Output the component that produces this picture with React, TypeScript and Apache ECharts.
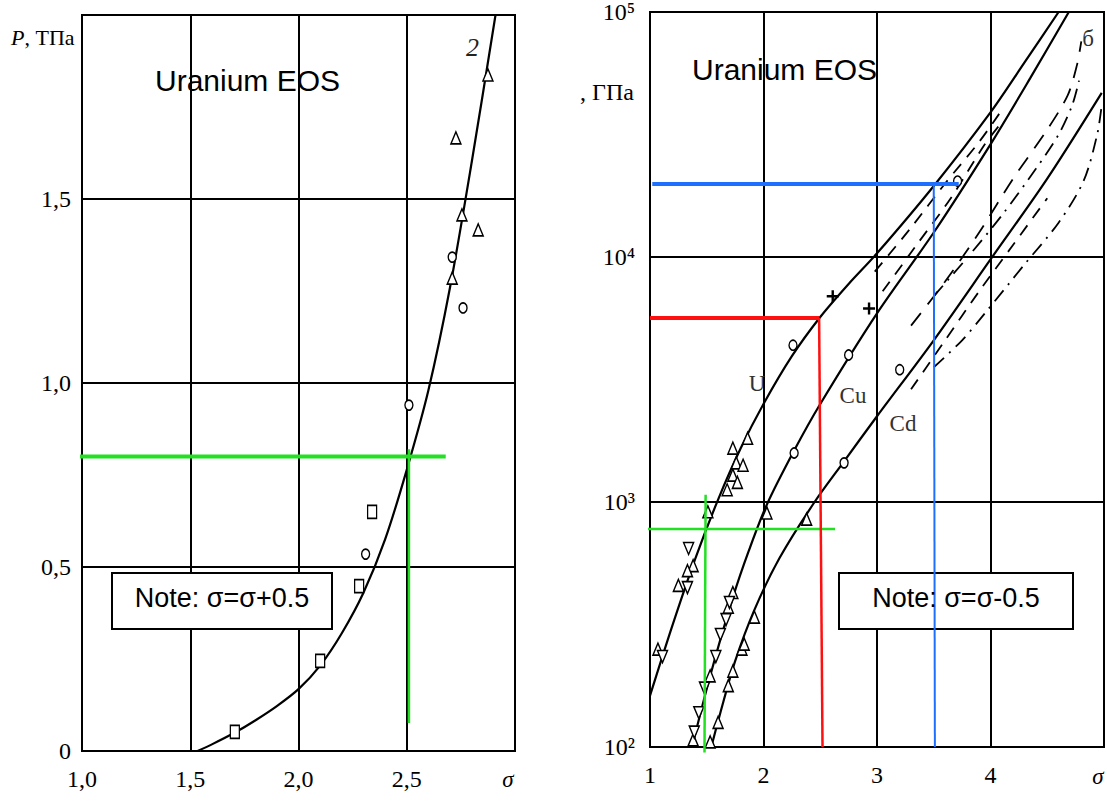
import React, { useEffect, useRef } from "react";
import * as echarts from "echarts";

const SERIF = '"Liberation Serif", "DejaVu Serif", serif';
const SANS = '"Liberation Sans", Arial, sans-serif';

// ---------- Left panel: P (TPa) vs sigma ----------
const leftCurveSigma = [1.534, 1.6, 1.7, 1.8, 1.9, 2.0, 2.1, 2.2, 2.3, 2.4, 2.5, 2.6, 2.7, 2.8, 2.91];
const leftCurveP = [0, 0.018, 0.048, 0.083, 0.122, 0.168, 0.232, 0.32, 0.43, 0.575, 0.764, 0.98, 1.26, 1.6, 2.0];
const leftSquaresSigma = [1.706, 2.1, 2.28, 2.34];
const leftSquaresP = [0.052, 0.245, 0.448, 0.65];
const leftCirclesSigma = [2.31, 2.51, 2.71, 2.76];
const leftCirclesP = [0.535, 0.94, 1.342, 1.204];
const leftTrianglesSigma = [2.875, 2.727, 2.755, 2.83, 2.71];
const leftTrianglesP = [1.837, 1.666, 1.457, 1.416, 1.285];
const leftGreenHSigma = [0.98, 2.68];
const leftGreenHP = [0.8, 0.8];
const leftGreenVSigma = [2.51, 2.51];
const leftGreenVP = [0.82, 0.076];

// ---------- Right panel: P (GPa, log) vs sigma ----------
const uLineSigma = [1.0, 1.2, 1.4, 1.6, 1.8, 2.0, 2.25, 2.5, 2.75, 3.0, 3.5, 4.0, 4.3, 4.6];
const uLineP = [162, 316, 589, 1023, 1660, 2512, 3936, 5689, 7762, 10351, 19498, 38905, 62230, 100000];
const cuLineSigma = [1.37, 1.53, 1.73, 1.87, 2.03, 2.27, 2.5, 3.0, 3.5, 4.0, 4.35, 4.69];
const cuLineP = [100, 195, 407, 631, 977, 1622, 2512, 5888, 12589, 28840, 53703, 100000];
const cdLineSigma = [1.54, 1.62, 1.75, 1.92, 2.14, 2.45, 2.7, 3.0, 3.5, 4.0, 4.5, 4.98];
const cdLineP = [100, 138, 224, 363, 589, 1000, 1445, 2239, 4571, 9772, 20893, 46774];

// theoretical (dashed / dash-dot) curves
const dashU_Sigma = [2.98, 3.3, 3.6, 3.9, 4.1];
const dashU_P = [8710, 13183, 19953, 29512, 39811];
const dashCu_Sigma = [3.05, 3.35, 3.65, 3.95, 4.1];
const dashCu_P = [7244, 11220, 17378, 28840, 35481];
const dashLong_Sigma = [3.3, 3.6, 3.9, 4.2, 4.5, 4.68, 4.76, 4.8];
const dashLong_P = [5248, 7943, 12589, 20893, 33113, 45709, 60256, 75858];
const dotDashA_Sigma = [3.5, 3.8, 4.1, 4.4, 4.6, 4.72, 4.78];
const dotDashA_P = [6918, 10000, 14791, 22909, 31623, 41687, 52481];
const dotDashB_Sigma = [3.5, 3.75, 3.95, 4.3, 4.6, 4.82, 4.94, 4.98];
const dotDashB_P = [3548, 4571, 5888, 9333, 13804, 20417, 31623, 41687];
const dashCd_Sigma = [3.3, 3.6, 3.9, 4.2, 4.5];
const dashCd_P = [2884, 4571, 7244, 11220, 17378];

// experimental points
const uTriSigma = [1.86, 1.73, 1.76, 1.82, 1.73, 1.77, 1.68, 1.51, 1.38, 1.33, 1.25, 1.07];
const uTriP = [1820, 1660, 1445, 1413, 1288, 1202, 1122, 912, 550, 525, 457, 251];
const uInvSigma = [1.34, 1.33, 1.11];
const uInvP = [646, 447, 234];
const uCircSigma = [2.26, 3.71];
const uCircP = [4365, 20417];
const plusSigma = [2.61, 2.93];
const plusP = [6918, 6166];
const cuTriSigma = [2.03, 1.73, 1.69, 1.53, 1.38];
const cuTriP = [902, 427, 372, 195, 107];
const cuInvSigma = [1.7, 1.67, 1.62, 1.58, 1.48, 1.43, 1.39];
const cuInvP = [389, 331, 288, 234, 174, 138, 115];
const cuCircSigma = [2.27, 2.75];
const cuCircP = [1585, 3981];
const cdTriSigma = [2.38, 1.92, 1.81, 1.83, 1.73, 1.69, 1.6, 1.53];
const cdTriP = [851, 339, 251, 263, 204, 178, 126, 105];
const cdCircSigma = [2.71, 3.2];
const cdCircP = [1445, 3467];

// guide lines
const rGreenHSigma = [0.98, 2.63];
const rGreenHP = [776, 776];
const rGreenVSigma = [1.49, 1.48];
const rGreenVP = [1070, 95];
const redHSigma = [1.0, 2.49];
const redHP = [5640, 5640];
const redVSigma = [2.49, 2.52];
const redVP = [5640, 100];
const blueHSigma = [1.02, 3.72];
const blueHP = [19870, 19870];
const blueVSigma = [3.5, 3.51];
const blueVP = [19870, 100];

const leftXLabels: Record<string, string> = { "1": "1,0", "1.5": "1,5", "2": "2,0", "2.5": "2,5", "3": "" };
const leftYLabels: Record<string, string> = { "0": "0", "0.5": "0,5", "1": "1,0", "1.5": "1,5", "2": "" };
const rightXLabels: Record<string, string> = { "1": "1", "2": "2", "3": "3", "4": "4", "5": "" };
const rightYLabels: Record<string, string> = { "100": "10²", "1000": "10³", "10000": "10⁴", "100000": "10⁵" };

const zip = (a: number[], b: number[]) => a.map((v, i) => [v, b[i]]);

function line(idx: number, xs: number[], ys: number[], color: string, width: number, type: any = "solid", smooth: number = 0.3, z = 3) {
  return {
    type: "line",
    xAxisIndex: idx,
    yAxisIndex: idx,
    data: zip(xs, ys),
    symbol: "none",
    showSymbol: false,
    smooth,
    clip: false,
    silent: true,
    z,
    lineStyle: { color, width, type },
  };
}

function marks(idx: number, xs: number[], ys: number[], symbol: string, size: any, rotate = 0, filled = false) {
  return {
    type: "scatter",
    xAxisIndex: idx,
    yAxisIndex: idx,
    data: zip(xs, ys),
    symbol,
    symbolSize: size,
    symbolRotate: rotate,
    silent: true,
    z: 4,
    itemStyle: filled
      ? { color: "#000", opacity: 1 }
      : { color: "#fff", borderColor: "#000", borderWidth: 1.5, opacity: 1 },
  };
}

const BLACK = "#000";
const GREEN = "#22e022";
const RED = "#ff1010";
const BLUE = "#1f6fff";
const PLUS = "path://M4,0h2v4h4v2h-4v4h-2v-4h-4v-2h4z";

function axisCommon() {
  return {
    axisLine: { show: true, onZero: false, lineStyle: { color: BLACK, width: 2 } },
    axisTick: { show: false },
    splitLine: { show: true, lineStyle: { color: BLACK, width: 2 } },
  };
}

export default function App() {
  const ref = useRef<HTMLDivElement>(null);
  useEffect(() => {
    if (!ref.current) return;
    const chart = echarts.init(ref.current, null, { renderer: "svg" });
    const labelStyle = { color: BLACK, fontFamily: SERIF, fontSize: 24 };
    const option: any = {
      animation: false,
      backgroundColor: "#fff",
      grid: [
        { left: 82, top: 15, width: 433, height: 736, show: true, borderColor: BLACK, borderWidth: 2, backgroundColor: "transparent" },
        { left: 650, top: 12, width: 455, height: 735, show: true, borderColor: BLACK, borderWidth: 2, backgroundColor: "transparent" },
      ],
      xAxis: [
        {
          gridIndex: 0, type: "value", min: 1, max: 3, interval: 0.5, ...axisCommon(),
          axisLabel: { ...labelStyle, margin: 16, formatter: (v: number) => leftXLabels[String(v)] ?? "" },
        },
        {
          gridIndex: 1, type: "value", min: 1, max: 5, interval: 1, ...axisCommon(),
          axisLabel: { ...labelStyle, margin: 16, formatter: (v: number) => rightXLabels[String(v)] ?? "" },
        },
      ],
      yAxis: [
        {
          gridIndex: 0, type: "value", min: 0, max: 2, interval: 0.5, ...axisCommon(),
          axisLabel: { ...labelStyle, margin: 11, formatter: (v: number) => leftYLabels[String(v)] ?? "" },
        },
        {
          gridIndex: 1, type: "log", logBase: 10, min: 100, max: 100000, ...axisCommon(),
          axisLabel: { ...labelStyle, margin: 15, formatter: (v: number) => rightYLabels[String(Math.round(v))] ?? "" },
        },
      ],
      series: [
        // left panel
        line(0, leftCurveSigma, leftCurveP, BLACK, 2.2),
        marks(0, leftSquaresSigma, leftSquaresP, "rect", [9, 13]),
        marks(0, leftCirclesSigma, leftCirclesP, "circle", [8, 10]),
        marks(0, leftTrianglesSigma, leftTrianglesP, "triangle", [10, 12]),
        line(0, leftGreenHSigma, leftGreenHP, GREEN, 4, "solid", 0, 5),
        line(0, leftGreenVSigma, leftGreenVP, GREEN, 2.5, "solid", 0, 5),
        // right panel solid curves
        line(1, uLineSigma, uLineP, BLACK, 2.2),
        line(1, cuLineSigma, cuLineP, BLACK, 2.2),
        line(1, cdLineSigma, cdLineP, BLACK, 2.2),
        // theoretical curves
        line(1, dashU_Sigma, dashU_P, BLACK, 1.8, [12, 9]),
        line(1, dashCu_Sigma, dashCu_P, BLACK, 1.8, [12, 9]),
        line(1, dashLong_Sigma, dashLong_P, BLACK, 1.8, [16, 11]),
        line(1, dotDashA_Sigma, dotDashA_P, BLACK, 1.8, [14, 7, 2, 7]),
        line(1, dotDashB_Sigma, dotDashB_P, BLACK, 1.8, [14, 7, 2, 7]),
        line(1, dashCd_Sigma, dashCd_P, BLACK, 1.8, [12, 9]),
        // experimental points
        marks(1, uTriSigma, uTriP, "triangle", [10, 12]),
        marks(1, uInvSigma, uInvP, "triangle", [10, 12], 180),
        marks(1, uCircSigma, uCircP, "circle", [8, 10]),
        marks(1, plusSigma, plusP, PLUS, 12, 0, true),
        marks(1, cuTriSigma, cuTriP, "triangle", [10, 12]),
        marks(1, cuInvSigma, cuInvP, "triangle", [10, 12], 180),
        marks(1, cuCircSigma, cuCircP, "circle", [8, 10]),
        marks(1, cdTriSigma, cdTriP, "triangle", [10, 12]),
        marks(1, cdCircSigma, cdCircP, "circle", [8, 10]),
        // guide lines
        line(1, rGreenHSigma, rGreenHP, GREEN, 2.5, "solid", 0, 5),
        line(1, rGreenVSigma, rGreenVP, GREEN, 2.5, "solid", 0, 5),
        line(1, redHSigma, redHP, RED, 4, "solid", 0, 5),
        line(1, redVSigma, redVP, RED, 2.5, "solid", 0, 5),
        line(1, blueHSigma, blueHP, BLUE, 4, "solid", 0, 5),
        line(1, blueVSigma, blueVP, BLUE, 2, "solid", 0, 6),
      ],
      graphic: [
        // left panel texts
        {
          type: "text", x: 11, y: 37, z: 10,
          style: {
            text: "{i|P}{n|, ТПа}", verticalAlign: "middle",
            rich: {
              i: { fontFamily: SERIF, fontStyle: "italic", fontSize: 22, fill: BLACK },
              n: { fontFamily: SERIF, fontSize: 22, fill: BLACK },
            },
          },
        },
        { type: "text", x: 155, y: 80, z: 10, style: { text: "Uranium EOS", font: `30px ${SANS}`, fill: BLACK, verticalAlign: "middle" } },
        { type: "text", x: 466, y: 47, z: 10, style: { text: "2", font: `italic 26px ${SERIF}`, fill: "#222", verticalAlign: "middle" } },
        { type: "text", x: 508, y: 779, z: 10, style: { text: "σ", font: `italic 23px ${SERIF}`, fill: BLACK, align: "center", verticalAlign: "middle" } },
        { type: "rect", z: 1, shape: { x: 112, y: 573, width: 220, height: 56 }, style: { fill: "#fff", stroke: BLACK, lineWidth: 2 } },
        { type: "text", x: 222, y: 598, z: 10, style: { text: "Note: σ=σ+0.5", font: `27px ${SANS}`, fill: BLACK, align: "center", verticalAlign: "middle" } },
        // right panel texts
        { type: "text", x: 580, y: 92, z: 10, style: { text: ", ГПа", font: `24px ${SERIF}`, fill: BLACK, verticalAlign: "middle" } },
        { type: "text", x: 692, y: 69, z: 10, style: { text: "Uranium EOS", font: `30px ${SANS}`, fill: BLACK, verticalAlign: "middle" } },
        { type: "text", x: 757, y: 383, z: 10, style: { text: "U", font: `23px ${SERIF}`, fill: "#333", align: "center", verticalAlign: "middle" } },
        { type: "text", x: 853, y: 395, z: 10, style: { text: "Cu", font: `23px ${SERIF}`, fill: "#333", align: "center", verticalAlign: "middle" } },
        { type: "text", x: 903, y: 423, z: 10, style: { text: "Cd", font: `23px ${SERIF}`, fill: "#333", align: "center", verticalAlign: "middle" } },
        { type: "text", x: 1088, y: 38, z: 10, style: { text: "б", font: `23px ${SERIF}`, fill: "#333", align: "center", verticalAlign: "middle" } },
        { type: "text", x: 1098, y: 776, z: 10, style: { text: "σ", font: `italic 23px ${SERIF}`, fill: BLACK, align: "center", verticalAlign: "middle" } },
        { type: "rect", z: 1, shape: { x: 839, y: 573, width: 234, height: 56 }, style: { fill: "#fff", stroke: BLACK, lineWidth: 2 } },
        { type: "text", x: 956, y: 598, z: 10, style: { text: "Note: σ=σ-0.5", font: `27px ${SANS}`, fill: BLACK, align: "center", verticalAlign: "middle" } },
      ],
    };
    chart.setOption(option);
    return () => chart.dispose();
  }, []);
  return (
    <div
      ref={ref}
      style={{ position: "fixed", left: 0, top: 0, width: 1107, height: 808, background: "#fff" }}
    />
  );
}
